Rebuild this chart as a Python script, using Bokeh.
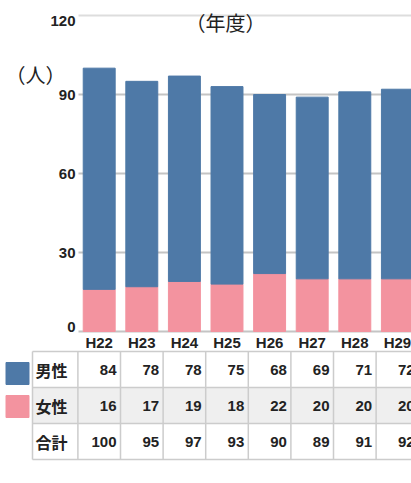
from bokeh.plotting import figure
from bokeh.models import Range1d, ColumnDataSource
from bokeh.core.properties import value
from bokeh.embed import file_html
from bokeh.resources import INLINE

# ---- data ----
years = ["H22", "H23", "H24", "H25", "H26", "H27", "H28", "H29"]
male = [84, 78, 78, 75, 68, 69, 71, 72]
female = [16, 17, 19, 18, 22, 20, 20, 20]
total = [m + f for m, f in zip(male, female)]
row_labels = ["男性", "女性", "合計"]
y_ticks = [0, 30, 60, 90, 120]
unit_label = "（人）"
x_title = "（年度）"

# ---- style / layout ----
BLUE = "#4e79a7"
PINK = "#f3939f"
TXT = "#222222"
GRID = "#c4c4c4"
JP = "Noto Sans CJK JP"
LAT = "Liberation Sans"

W, H = 411, 483
PITCH = 42.6          # px per category
C0 = 98.7             # px centre of first category
PX_TOP, PX_ZERO = 15, 331   # px of y=120 and y=0
YMAX = max(y_ticks)
PPU = (PX_ZERO - PX_TOP) / YMAX


def dx(px):
    return (px - C0) / PITCH


X0, X1 = dx(0), dx(W)
Y0 = -(H - PX_ZERO) / PPU
Y1 = YMAX + PX_TOP / PPU

p = figure(width=W, height=H, x_range=Range1d(X0, X1), y_range=Range1d(Y0, Y1),
           output_backend="svg", toolbar_location=None,
           x_axis_type=None, y_axis_type=None,
           min_border_left=0, min_border_right=0, min_border_top=0, min_border_bottom=0)
p.extra_y_ranges = {"px": Range1d(start=H, end=0)}
p.outline_line_color = None
p.grid.visible = False
p.background_fill_color = "white"

idx = list(range(len(years)))
PLOT_L = dx(78)

# grid lines (top one lighter)
gcol = ["#dddddd" if v == max(y_ticks) else GRID for v in y_ticks]
p.segment(x0=[PLOT_L] * len(y_ticks), x1=[X1 + 1] * len(y_ticks), y0=y_ticks, y1=y_ticks,
          line_color=gcol, line_width=2)

# stacked bars
src = ColumnDataSource(dict(x=idx, male=male, female=female))
p.vbar_stack(["female", "male"], x="x", width=0.75, color=[PINK, BLUE], source=src)

# y tick labels
bl = ["bottom" if v == min(y_ticks) else "top" if v == max(y_ticks) else "middle" for v in y_ticks]
p.text(x=[dx(75)] * len(y_ticks), y=y_ticks, text=[str(v) for v in y_ticks],
       text_baseline=bl, text_align="right",
       text_font=value(LAT), text_font_style="bold", text_font_size="15px", text_color=TXT)

# category labels
p.text(x=idx, y=[342] * len(idx), text=years, y_range_name="px",
       text_align="center", text_baseline="middle",
       text_font=value(LAT), text_font_style="bold", text_font_size="15px", text_color=TXT)

# axis titles
p.text(x=[dx(5)], y=[74], text=[unit_label], y_range_name="px",
       text_align="left", text_baseline="middle",
       text_font=value(JP), text_font_size="20px", text_color=TXT)
p.text(x=[dx(225)], y=[22], text=[x_title], y_range_name="px",
       text_align="center", text_baseline="middle",
       text_font=value(JP), text_font_size="20px", text_color=TXT)

# ---- table ----
ROW_H = 36
T_TOP = 351
nrows = len(row_labels)
LBL_L = dx(32)
RIGHT = X1 + 1

p.quad(left=[LBL_L], right=[RIGHT], top=[T_TOP + ROW_H], bottom=[T_TOP + 2 * ROW_H],
       y_range_name="px", fill_color="#efefef", line_color=None)

hy = [T_TOP + r * ROW_H for r in range(nrows + 1)]
p.segment(x0=[LBL_L] * len(hy), x1=[RIGHT] * len(hy), y0=hy, y1=hy,
          y_range_name="px", line_color="#cccccc", line_width=1.5)
vx = [LBL_L, -0.5] + [i + 0.5 for i in idx]
p.segment(x0=vx, x1=vx, y0=[T_TOP] * len(vx), y1=[T_TOP + nrows * ROW_H] * len(vx),
          y_range_name="px", line_color="#cccccc", line_width=1.5)

centers = [T_TOP + r * ROW_H + ROW_H / 2 for r in range(nrows)]
p.text(x=[dx(35)] * nrows, y=centers, text=row_labels, y_range_name="px",
       text_font=value(JP), text_font_style="bold", text_font_size="16px",
       text_color=TXT, text_align="left", text_baseline="middle")

for r, vals in enumerate([male, female, total]):
    p.text(x=[i + 0.5 - 4 / PITCH for i in idx], y=[centers[r]] * len(idx),
           text=[str(v) for v in vals], y_range_name="px",
           text_font=value(LAT), text_font_style="bold", text_font_size="15px",
           text_color=TXT, text_align="right", text_baseline="middle")

# legend swatches
p.rect(x=[dx(17)] * 2, y=[centers[0] + 4, centers[1] + 1], width=23 / PITCH, height=22,
       y_range_name="px", color=[BLUE, PINK])

open("out.html", "w").write(file_html(p, INLINE))
